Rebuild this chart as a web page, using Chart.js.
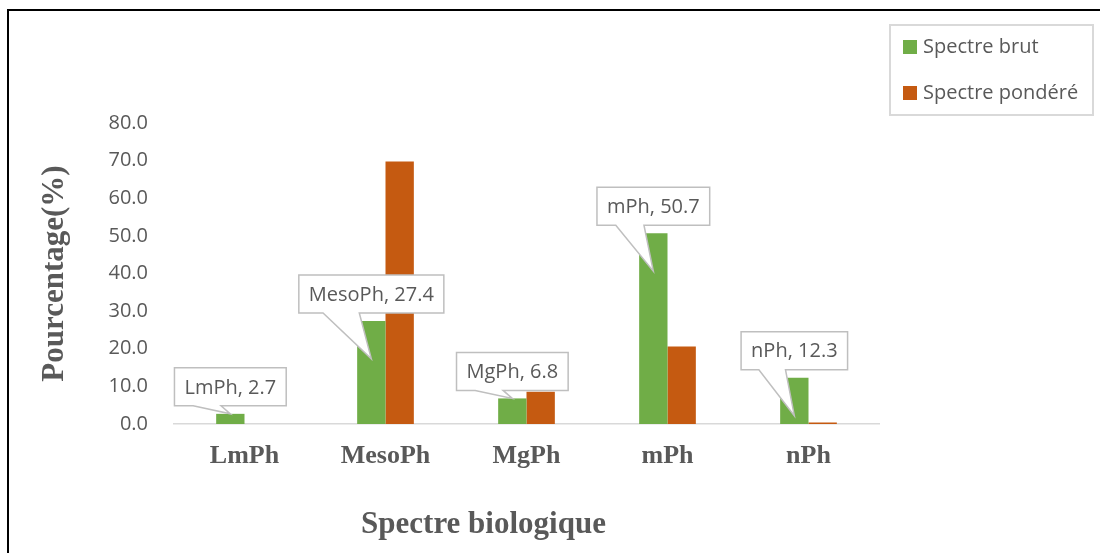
<!DOCTYPE html>
<html>
<head>
<meta charset="utf-8">
<script src="https://cdn.jsdelivr.net/npm/chart.js@4.4.1/dist/chart.umd.min.js"></script>
<style>
  html, body { margin: 0; padding: 0; background: #ffffff; overflow: hidden; }
  canvas { display: block; }
</style>
</head>
<body>
<canvas id="chart" width="1100" height="553"></canvas>
<script>
// Biological spectrum of the phanerophyte sub-types (percentages)
const categories = ['LmPh', 'MesoPh', 'MgPh', 'mPh', 'nPh'];
const seriesNames = ['Spectre brut', 'Spectre pondéré'];
const spectreBrut = [2.7, 27.4, 6.8, 50.7, 12.3];
const spectrePondere = [0, 69.8, 8.6, 20.6, 0.4];
const yTicks = [0, 10, 20, 30, 40, 50, 60, 70, 80];
const xTitle = 'Spectre biologique';
const yTitle = 'Pourcentage(%)';

const GREEN = '#70AD47';
const ORANGE = '#C55A11';
const TEXT_GRAY = '#595959';

Chart.defaults.font.family = "'Open Sans', sans-serif";
Chart.defaults.color = TEXT_GRAY;

// Outer frame of the figure (left and top edges)
const framePlugin = {
  id: 'frame',
  beforeDraw(chart) {
    const ctx = chart.ctx;
    ctx.save();
    ctx.strokeStyle = '#000000';
    ctx.lineWidth = 2;
    ctx.beginPath();
    ctx.moveTo(8, chart.height + 2);
    ctx.lineTo(8, 10);
    ctx.lineTo(chart.width + 2, 10);
    ctx.stroke();
    ctx.restore();
  }
};

// Callout boxes for the "Spectre brut" bars: "category, value"
const calloutPlugin = {
  id: 'callouts',
  afterDatasetsDraw(chart) {
    const ctx = chart.ctx;
    const meta = chart.getDatasetMeta(0);
    const base = chart.scales.y.getPixelForValue(0);
    ctx.save();
    ctx.font = "20px 'Open Sans', sans-serif";
    meta.data.forEach((bar, i) => {
      const value = chart.data.datasets[0].data[i];
      const text = chart.data.labels[i] + ', ' + value.toFixed(1);
      const tw = ctx.measureText(text).width;
      const w = tw + 20;
      const h = 38;
      const cx = bar.x;
      const bottom = bar.y - 8;
      const top = bottom - h;
      const left = cx - w / 2;
      const right = cx + w / 2;
      const barH = base - bar.y;
      const tipY = barH > 40 ? bottom + 46 : bar.y;
      const b1 = left + w * 0.167;
      const b2 = left + w * 0.417;

      ctx.beginPath();
      ctx.moveTo(left, top);
      ctx.lineTo(right, top);
      ctx.lineTo(right, bottom);
      ctx.lineTo(b2, bottom);
      ctx.lineTo(cx, tipY);
      ctx.lineTo(b1, bottom);
      ctx.lineTo(left, bottom);
      ctx.closePath();
      ctx.fillStyle = '#ffffff';
      ctx.fill();
      ctx.strokeStyle = '#bfbfbf';
      ctx.lineWidth = 1.5;
      ctx.stroke();

      ctx.fillStyle = TEXT_GRAY;
      ctx.textAlign = 'center';
      ctx.textBaseline = 'middle';
      ctx.fillText(text, cx, (top + bottom) / 2 + 1);
    });
    ctx.restore();
  }
};

// Boxed legend in the upper right corner, and the category axis title
const legendPlugin = {
  id: 'boxLegend',
  afterDraw(chart) {
    const ctx = chart.ctx;
    ctx.save();
    const lx = 890, ly = 25, lw = 203, lh = 90;
    ctx.strokeStyle = '#d9d9d9';
    ctx.lineWidth = 2;
    ctx.strokeRect(lx, ly, lw, lh);
    ctx.font = "20px 'Open Sans', sans-serif";
    ctx.textAlign = 'left';
    ctx.textBaseline = 'middle';
    chart.data.datasets.forEach((ds, i) => {
      const rowY = 47 + i * 46;
      ctx.fillStyle = ds.backgroundColor;
      ctx.fillRect(903, rowY - 7, 14, 14);
      ctx.fillStyle = TEXT_GRAY;
      ctx.fillText(ds.label, 923, rowY);
    });

    const area = chart.chartArea;
    ctx.font = "bold 31px 'Liberation Serif', 'Times New Roman', serif";
    ctx.textAlign = 'center';
    ctx.fillStyle = TEXT_GRAY;
    ctx.fillText(xTitle, area.left + (area.right - area.left) * 0.439, 525);
    ctx.restore();
  }
};

new Chart(document.getElementById('chart'), {
  type: 'bar',
  data: {
    labels: categories,
    datasets: [
      { label: seriesNames[0], data: spectreBrut, backgroundColor: GREEN,
        categoryPercentage: 0.402, barPercentage: 1.0 },
      { label: seriesNames[1], data: spectrePondere, backgroundColor: ORANGE,
        categoryPercentage: 0.402, barPercentage: 1.0 }
    ]
  },
  options: {
    responsive: false,
    animation: false,
    layout: { padding: { top: 123, right: 221, left: 0, bottom: 0 } },
    plugins: {
      legend: { display: false },
      tooltip: { enabled: false }
    },
    scales: {
      x: {
        grid: { display: false, drawTicks: false },
        border: { display: true, color: '#d9d9d9', width: 1.5 },
        ticks: {
          padding: 17,
          color: TEXT_GRAY,
          font: { family: "'Liberation Serif', 'Times New Roman', serif", size: 26, weight: 'bold' }
        },
        afterFit(scale) { scale.height = 129; }
      },
      y: {
        min: 0,
        max: 80,
        grid: { display: false, drawTicks: false },
        border: { display: false },
        afterBuildTicks(scale) { scale.ticks = yTicks.map(v => ({ value: v })); },
        ticks: {
          padding: 26,
          color: TEXT_GRAY,
          font: { size: 20 },
          callback: (v) => Number(v).toFixed(1)
        },
        title: {
          display: true,
          text: yTitle,
          color: TEXT_GRAY,
          padding: { top: 39, bottom: 0 },
          font: { family: "'Liberation Serif', 'Times New Roman', serif", size: 31, weight: 'bold', lineHeight: 1 }
        },
        afterFit(scale) { scale.width = 174; }
      }
    }
  },
  plugins: [framePlugin, calloutPlugin, legendPlugin]
});
</script>
</body>
</html>
